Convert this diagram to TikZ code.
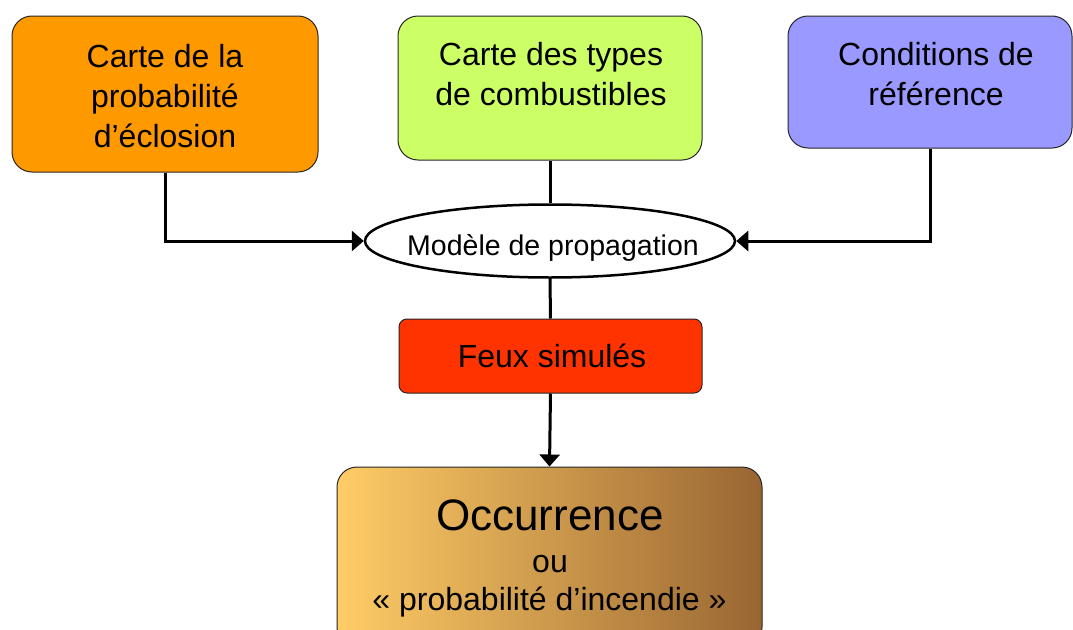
\documentclass[tikz,border=0pt]{standalone}
\usepackage{fontspec}
\setmainfont{Liberation Sans}
\usetikzlibrary{arrows.meta,shapes.geometric}
\definecolor{corange}{HTML}{FF9900}
\definecolor{cgreen}{HTML}{CCFF66}
\definecolor{cblue}{HTML}{9999FF}
\definecolor{cred}{HTML}{FF3300}
\definecolor{occleft}{HTML}{FFCC66}
\definecolor{occright}{HTML}{996633}
\begin{document}
\begin{tikzpicture}[x=1pt,y=-1pt,
  box/.style={draw=black!85, line width=1pt, rounded corners=20pt, inner sep=0pt},
  lbl/.style={align=center, font=\fontsize{32}{40}\selectfont, inner sep=0pt},
  conn/.style={line width=3pt, draw=black},
  tip/.style={-{Triangle[length=12pt,width=20pt]}}]
\useasboundingbox (0,0) rectangle (1073,629);

% boxes
\node[box, fill=corange, minimum width=306pt, minimum height=156pt] (orange) at (165,94) {};
\node[box, fill=cgreen, minimum width=304pt, minimum height=144pt] (green) at (550,88) {};
\node[box, fill=cblue, minimum width=284pt, minimum height=132pt] (blue) at (930,82) {};
\node[draw=black, line width=2.5pt, fill=white, ellipse, inner sep=0pt,
      minimum width=370pt, minimum height=73pt] (ell) at (550,241) {};
\node[box, rounded corners=8pt, fill=cred, minimum width=303pt, minimum height=74pt] (red) at (550.5,356) {};
\node[box, left color=occleft, right color=occright, minimum width=425pt, minimum height=180pt] (occ) at (549.5,557) {};

% texts
\node[lbl, anchor=north] (torange) at (165,44) {Carte de la\\probabilité\\d’éclosion};
\node[lbl, anchor=north] (tgreen) at (551,42) {Carte des types\\de combustibles};
\node[lbl, anchor=north] (tblue) at (936,42) {Conditions de\\référence};
\node[inner sep=0pt, anchor=base, font=\fontsize{28.5}{34}\selectfont] (tell) at (553,255) {Modèle de propagation};
\node[lbl, anchor=base] (tred) at (552,367) {Feux simulés};
\node[inner sep=0pt, anchor=base, font=\fontsize{44}{50}\selectfont] (tocc1) at (550,530) {Occurrence};
\node[lbl, anchor=base] (tocc2) at (550,572) {ou};
\node[lbl, anchor=base] (tocc3) at (549.5,610) {« probabilité d’incendie »};

% connectors
\draw[conn, tip] (orange.south) |- (ell.west);
\draw[conn, tip] (blue.south) |- (ell.east);
\draw[conn] (green.south) -- (ell.north);
\draw[conn] (ell.south) -- (red.north);
\draw[conn, tip] (red.south) -- (occ.north);
\end{tikzpicture}
\end{document}
